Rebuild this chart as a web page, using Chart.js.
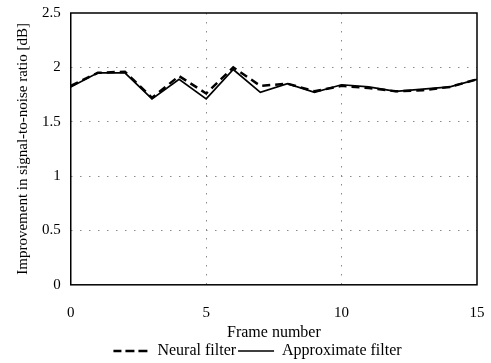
<!DOCTYPE html>
<html>
<head>
<meta charset="utf-8">
<script src="https://cdn.jsdelivr.net/npm/chart.js@4/dist/chart.umd.min.js"></script>
<style>
  html, body { margin: 0; padding: 0; background: #fff; }
  #wrap { width: 491px; height: 363px; position: relative; }
</style>
</head>
<body>
<div id="wrap"><canvas id="myChart"></canvas></div>
<script>
// data
const frames = [0, 1, 2, 3, 4, 5, 6, 7, 8, 9, 10, 11, 12, 13, 14, 15];
const neuralFilter = [1.83, 1.95, 1.96, 1.72, 1.92, 1.76, 2.00, 1.83, 1.85, 1.78, 1.83, 1.81, 1.78, 1.79, 1.82, 1.89];
const approxFilter = [1.82, 1.95, 1.95, 1.71, 1.89, 1.71, 1.98, 1.77, 1.85, 1.77, 1.84, 1.82, 1.78, 1.80, 1.82, 1.89];
const yTicks = [0, 0.5, 1, 1.5, 2, 2.5];
const xTicks = [0, 5, 10, 15];

const serif = "'Liberation Serif', 'DejaVu Serif', serif";

const toPoints = (vals) => frames.map((f, i) => ({ x: f, y: vals[i] }));

// black frame round the plot area, legend nudged a bit right like the scan
const boxPlugin = {
    id: 'box',
    afterLayout(chart) {
        if (chart.legend) {
            chart.legend.left += 12;
            chart.legend.right += 12;
        }
    },
    afterDraw(chart) {
        const { ctx, chartArea: a } = chart;
        ctx.save();
        ctx.strokeStyle = '#000';
        ctx.lineWidth = 1.5;
        ctx.setLineDash([]);
        ctx.strokeRect(a.left, a.top, a.right - a.left, a.bottom - a.top);
        ctx.restore();
    }
};

const inner = (min, max) => (ctx) =>
    (ctx.tick && (ctx.tick.value === min || ctx.tick.value === max)) ? 'rgba(0,0,0,0)' : '#8a8a8a';

// let layout.padding alone decide the outer margins
const noEdgePad = (axis) => {
    axis.paddingTop = 0;
    axis.paddingBottom = 0;
    axis.paddingLeft = 0;
    axis.paddingRight = 0;
};

new Chart(document.getElementById('myChart'), {
    type: 'line',
    data: {
        datasets: [
            {
                label: 'Neural filter',
                data: toPoints(neuralFilter),
                borderColor: '#000',
                backgroundColor: 'rgba(0,0,0,0)',
                borderWidth: 2.5,
                borderDash: [8, 5],
                pointRadius: 0,
                tension: 0
            },
            {
                label: 'Approximate filter',
                data: toPoints(approxFilter),
                borderColor: '#000',
                backgroundColor: 'rgba(0,0,0,0)',
                borderWidth: 1.7,
                pointRadius: 0,
                tension: 0
            }
        ]
    },
    options: {
        responsive: true,
        maintainAspectRatio: false,
        animation: false,
        layout: { padding: { left: 14, right: 14, top: 13, bottom: -6 } },
        scales: {
            x: {
                type: 'linear',
                min: 0,
                max: 15,
                afterBuildTicks: (axis) => { axis.ticks = xTicks.map(v => ({ value: v })); },
                afterFit: noEdgePad,
                ticks: { color: '#000', font: { family: serif, size: 15 }, padding: 19, maxRotation: 0 },
                grid: { color: inner(0, 15), lineWidth: 1, drawTicks: false },
                border: { display: false, dash: [1.5, 7.5] },
                title: { display: true, text: 'Frame number', color: '#000', font: { family: serif, size: 16 }, padding: { top: -18, bottom: -1 } }
            },
            y: {
                min: 0,
                max: 2.5,
                afterBuildTicks: (axis) => { axis.ticks = yTicks.map(v => ({ value: v })); },
                afterFit: noEdgePad,
                ticks: { color: '#000', font: { family: serif, size: 15 }, padding: 10, callback: (v) => String(v) },
                grid: { color: inner(0, 2.5), lineWidth: 1, drawTicks: false },
                border: { display: false, dash: [1.5, 7.5] },
                title: { display: true, text: 'Improvement in signal-to-noise ratio [dB]', color: '#000', font: { family: serif, size: 15 }, padding: { top: 0, bottom: 0 } }
            }
        },
        plugins: {
            legend: {
                position: 'bottom',
                labels: {
                    color: '#000',
                    font: { family: serif, size: 16 },
                    boxWidth: 36,
                    boxHeight: 0,
                    padding: 2
                }
            },
            tooltip: { enabled: false }
        }
    },
    plugins: [boxPlugin]
});
</script>
</body>
</html>
